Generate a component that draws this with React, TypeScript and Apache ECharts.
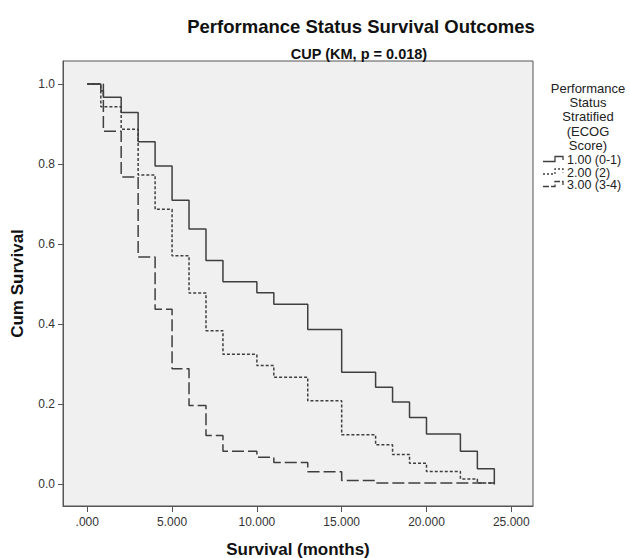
import React, { useEffect, useRef } from "react";
import * as echarts from "echarts";

// Kaplan-Meier step data (time in months, cumulative survival)
const group1Times = [0, 0.8, 0.95, 2, 3, 4, 5, 6, 7, 8, 10, 11, 13, 15, 17, 18, 19, 20, 22, 23, 24];
const group1Surv = [1.0, 0.983, 0.967, 0.929, 0.856, 0.795, 0.71, 0.638, 0.559, 0.506, 0.479, 0.45, 0.387, 0.28, 0.243, 0.206, 0.167, 0.126, 0.083, 0.039, 0.0];

const group2Times = [0, 0.8, 2, 3, 4, 5, 6, 7, 8, 10, 11, 13, 15, 17, 18, 19, 20, 22, 23, 24];
const group2Surv = [1.0, 0.943, 0.887, 0.773, 0.687, 0.571, 0.478, 0.384, 0.325, 0.297, 0.268, 0.209, 0.124, 0.099, 0.075, 0.053, 0.0325, 0.014, 0.004, 0.004];

const group3Times = [0, 0.95, 2, 3, 4, 5, 6, 7, 8, 10, 11, 13, 15, 17, 24];
const group3Surv = [1.0, 0.882, 0.768, 0.568, 0.4375, 0.289, 0.197, 0.1225, 0.083, 0.068, 0.055, 0.032, 0.01, 0.004, 0.003];

const seriesNames = ["1.00 (0-1)", "2.00 (2)", "3.00 (3-4)"];
const xTicks = [0, 5, 10, 15, 20, 25];
const yTicks = [0, 0.2, 0.4, 0.6, 0.8, 1.0];

const FONT = "'Liberation Sans', Arial, Helvetica, sans-serif";
const LINE = "#3f3f3f";

function pairs(t: number[], s: number[]) {
  return t.map((v, i) => [v, s[i]]);
}

export default function App() {
  const ref = useRef<HTMLDivElement>(null);
  useEffect(() => {
    if (!ref.current) return;
    document.body.style.margin = "0";
    document.body.style.overflow = "hidden";
    const chart = echarts.init(ref.current, undefined, { renderer: "svg" });
    const lineTypes: any[] = ["solid", [3, 2], [12, 4]];
    const data = [
      pairs(group1Times, group1Surv),
      pairs(group2Times, group2Surv),
      pairs(group3Times, group3Surv),
    ];
    const legendBaseY = [160, 172.5, 185];
    const legendGraphics: any[] = [];
    legendBaseY.forEach((y, i) => {
      legendGraphics.push({
        type: "polyline",
        silent: true,
        shape: {
          points: [
            [543, y + 1.5],
            [555, y + 1.5],
            [555, y - 3.5],
            [563, y - 3.5],
            [563, y],
          ],
        },
        style: {
          stroke: LINE,
          lineWidth: 1.3,
          fill: "none",
          lineDash: i === 0 ? null : i === 1 ? [2, 2] : [6, 2],
        },
      });
      legendGraphics.push({
        type: "text",
        x: 567,
        y: y,
        style: {
          text: seriesNames[i],
          font: `12.5px ${FONT}`,
          fill: "#222",
          verticalAlign: "middle",
          align: "left",
        },
      });
    });

    chart.setOption({
      animation: false,
      backgroundColor: "#ffffff",
      title: [
        {
          text: "Performance Status Survival Outcomes",
          left: 356,
          top: 12,
          textAlign: "center",
          textStyle: { fontFamily: FONT, fontWeight: "bold", fontSize: 18.5, color: "#111" },
        },
        {
          text: "CUP (KM, p = 0.018)",
          left: 354,
          top: 41,
          textAlign: "center",
          textStyle: { fontFamily: FONT, fontWeight: "bold", fontSize: 14.5, color: "#111" },
        },
      ],
      grid: {
        left: 63,
        right: 97,
        top: 61,
        bottom: 52,
        show: true,
        backgroundColor: "#f0f0f0",
        borderColor: "#555",
        borderWidth: 1,
        containLabel: false,
        outerBoundsMode: "none",
      },
      xAxis: {
        type: "value",
        min: -1.43,
        max: 26.28,
        name: "Survival (months)",
        nameLocation: "middle",
        nameGap: 35,
        nameTextStyle: { fontFamily: FONT, fontWeight: "bold", fontSize: 17, color: "#111" },
        axisLine: { show: true, onZero: false, lineStyle: { color: "#555", width: 1 } },
        axisTick: { show: true, length: 6, customValues: xTicks, lineStyle: { color: "#555" } },
        axisLabel: {
          customValues: xTicks,
          margin: 10,
          fontFamily: FONT,
          fontSize: 12,
          color: "#333",
          formatter: (v: number) => (v === 0 ? ".000" : v.toFixed(3)),
        },
        splitLine: { show: false },
      },
      yAxis: {
        type: "value",
        min: -0.0537,
        max: 1.0574,
        name: "Cum Survival",
        nameLocation: "middle",
        nameGap: 37,
        nameTextStyle: { fontFamily: FONT, fontWeight: "bold", fontSize: 17, color: "#111" },
        axisLine: { show: true, onZero: false, lineStyle: { color: "#555", width: 1 } },
        axisTick: { show: true, length: 5, customValues: yTicks, lineStyle: { color: "#555" } },
        axisLabel: {
          customValues: yTicks,
          margin: 8,
          fontFamily: FONT,
          fontSize: 12,
          color: "#333",
          formatter: (v: number) => v.toFixed(1),
        },
        splitLine: { show: false },
      },
      series: data.map((d, i) => ({
        type: "line",
        name: seriesNames[i],
        data: d,
        step: "end",
        showSymbol: false,
        symbol: "none",
        lineStyle: { color: LINE, width: 1.5, type: lineTypes[i] },
        z: 3 - i,
      })),
      graphic: [
        {
          type: "text",
          x: 588,
          y: 81,
          style: {
            text: "Performance\nStatus\nStratified\n(ECOG\nScore)",
            font: `13px ${FONT}`,
            fill: "#222",
            align: "center",
            verticalAlign: "top",
            lineHeight: 14.3,
          },
        },
        ...legendGraphics,
      ],
    });
    return () => chart.dispose();
  }, []);
  return (
    <div
      ref={ref}
      style={{ position: "absolute", left: 0, top: 0, width: 630, height: 558 }}
    />
  );
}
